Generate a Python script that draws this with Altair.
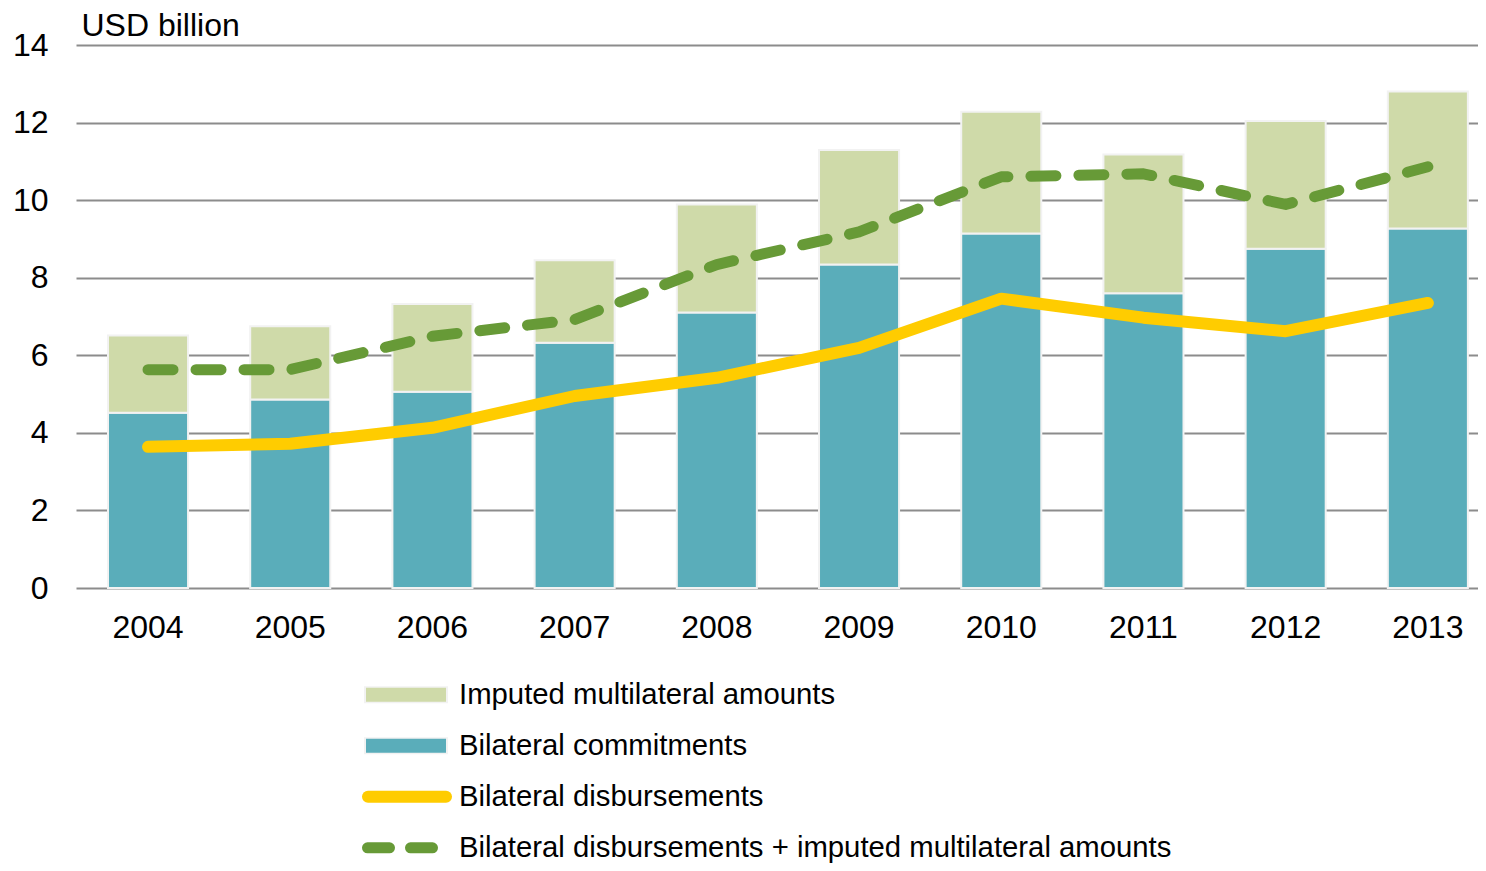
import altair as alt
import pandas as pd

# ---- data ----
years = ["2004", "2005", "2006", "2007", "2008", "2009", "2010", "2011", "2012", "2013"]
bilateral_commitments = [4.52, 4.86, 5.06, 6.32, 7.10, 8.34, 9.14, 7.60, 8.75, 9.27]
imputed_multilateral = [1.99, 1.89, 2.26, 2.13, 2.79, 2.95, 3.14, 3.58, 3.29, 3.53]
bilateral_disbursements = [3.64, 3.72, 4.13, 4.95, 5.42, 6.19, 7.46, 6.97, 6.62, 7.35]
disb_plus_imputed = [5.63, 5.63, 6.49, 6.92, 8.34, 9.18, 10.60, 10.68, 9.89, 10.86]

bar_series = ["Bilateral commitments", "Imputed multilateral amounts"]
legend_labels = [
    "Imputed multilateral amounts",
    "Bilateral commitments",
    "Bilateral disbursements",
    "Bilateral disbursements + imputed multilateral amounts",
]
y_ticks = [0, 2, 4, 6, 8, 10, 12, 14]

# ---- styles ----
TEAL = "#5AADBA"
LIGHT = "#CFDAA9"
YELLOW = "#FFCC00"
GREEN = "#679A37"
FONT = "Liberation Sans"

bars_df = pd.DataFrame(
    [{"year": y, "series": bar_series[0], "value": c, "ord": 0} for y, c in zip(years, bilateral_commitments)]
    + [{"year": y, "series": bar_series[1], "value": m, "ord": 1} for y, m in zip(years, imputed_multilateral)]
)
lines_df = pd.DataFrame({"year": years, "disb": bilateral_disbursements, "total": disb_plus_imputed})

x_enc = alt.X(
    "year:N",
    sort=years,
    scale=alt.Scale(paddingInner=0.437, paddingOuter=0.148, align=0.76),
    axis=alt.Axis(title=None, labelAngle=0, domain=False, ticks=False, grid=False,
                  labelPadding=24, labelFontSize=32, labelFont=FONT, labelColor="#000000"),
)
y_scale = alt.Scale(domain=[0, 14], nice=False)

bars = alt.Chart(bars_df).mark_bar(stroke="#F2F2F2", strokeWidth=2).encode(
    x=x_enc,
    y=alt.Y(
        "value:Q",
        stack="zero",
        scale=y_scale,
        axis=alt.Axis(
            values=y_ticks, grid=True, gridColor="#8C8C8C", gridWidth=2, domain=False, ticks=False,
            labelPadding=28, labelFontSize=32, labelFont=FONT, labelColor="#000000",
            title="USD billion", titleAngle=0, titleX=5, titleY=-10, titleAlign="left",
            titleBaseline="alphabetic", titleFontSize=32, titleFont=FONT,
            titleFontWeight="normal", titleColor="#000000",
        ),
    ),
    color=alt.Color("series:N", scale=alt.Scale(domain=bar_series, range=[TEAL, LIGHT]), legend=None),
    order=alt.Order("ord:Q", sort="ascending"),
)

disb_line = alt.Chart(lines_df).mark_line(
    color=YELLOW, strokeWidth=12, strokeCap="round", strokeJoin="round"
).encode(x=alt.X("year:N", sort=years), y=alt.Y("disb:Q", scale=y_scale))

total_line = alt.Chart(lines_df).mark_line(
    color=GREEN, strokeWidth=11, strokeCap="round", strokeJoin="round", strokeDash=[25, 23]
).encode(x=alt.X("year:N", sort=years), y=alt.Y("total:Q", scale=y_scale))

main = alt.layer(bars, disb_line, total_line).properties(width=1402, height=543)

# ---- legend (separate panel) ----
leg_df = pd.DataFrame({"label": legend_labels})
leg_y = alt.Y("label:N", sort=legend_labels,
              scale=alt.Scale(type="point", domain=legend_labels, padding=0.23), axis=None)

def item(i):
    return alt.Chart(leg_df).transform_filter(alt.datum.label == legend_labels[i])

sw_border = alt.Chart(leg_df).transform_filter(
    alt.FieldOneOfPredicate(field="label", oneOf=legend_labels[:2])
).mark_rule(color="#F2F2F2", strokeWidth=17, strokeCap="butt").encode(
    y=leg_y, x=alt.value(288), x2=alt.value(372))
sw_light = item(0).mark_rule(color=LIGHT, strokeWidth=14, strokeCap="butt").encode(
    y=leg_y, x=alt.value(290), x2=alt.value(370))
sw_teal = item(1).mark_rule(color=TEAL, strokeWidth=14, strokeCap="butt").encode(
    y=leg_y, x=alt.value(290), x2=alt.value(370))
sw_yellow = item(2).mark_rule(color=YELLOW, strokeWidth=12, strokeCap="round").encode(
    y=leg_y, x=alt.value(292), x2=alt.value(370))
sw_green = item(3).mark_rule(color=GREEN, strokeWidth=11, strokeCap="round", strokeDash=[22, 21]).encode(
    y=leg_y, x=alt.value(291.5), x2=alt.value(358.5))
leg_text = alt.Chart(leg_df).mark_text(
    align="left", baseline="middle", fontSize=29.3, font=FONT, color="#000000"
).encode(y=leg_y, x=alt.value(383), text="label:N")

legend = alt.layer(sw_border, sw_light, sw_teal, sw_yellow, sw_green, leg_text).properties(
    width=1402, height=176.5)

chart = alt.vconcat(main, legend, spacing=37).properties(
    padding={"left": 4, "top": 1, "right": 0, "bottom": 0},
    background="white",
).configure_view(stroke=None)

chart.save("out.html", embed_options={"renderer": "svg", "actions": False})
